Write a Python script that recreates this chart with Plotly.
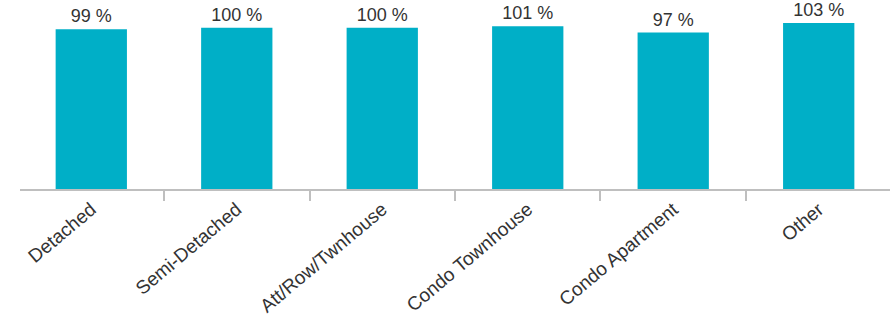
import plotly.graph_objects as go

categories = ["Detached", "Semi-Detached", "Att/Row/Twnhouse", "Condo Townhouse", "Condo Apartment", "Other"]
values = [99, 100, 100, 101, 97, 103]
labels = ["99 %", "100 %", "100 %", "101 %", "97 %", "103 %"]

fig = go.Figure(go.Bar(
    x=categories, y=values, text=labels, textposition="outside",
    cliponaxis=False, constraintext="none",
    marker=dict(color="#00AFC7", line=dict(width=0)),
    textfont=dict(family="Liberation Sans, Arial", size=18, color="#333333"),
    hoverinfo="skip",
))

fig.update_layout(
    width=892, height=321,
    margin=dict(l=20, r=2, t=10, b=132, autoexpand=False),
    paper_bgcolor="white", plot_bgcolor="white",
    bargap=0.51,
    showlegend=False,
    font=dict(family="Liberation Sans, Arial", size=18, color="#333333"),
)
fig.update_xaxes(
    type="category", range=[-0.49, 5.49], automargin=False,
    showline=True, linecolor="#BFBFBF", linewidth=2,
    ticks="outside", tickson="boundaries", ticklen=10, tickcolor="#BFBFBF", tickwidth=2,
    tickangle=-40, tickfont=dict(size=19, color="#333333"),
    showgrid=False, zeroline=False,
)
fig.update_yaxes(range=[0, 111], visible=False, showgrid=False, zeroline=False, automargin=False)

fig.write_html(
    "out.html",
    config={"displayModeBar": False, "staticPlot": True},
    post_script="document.body.style.margin='0';document.body.style.overflow='hidden';",
)
